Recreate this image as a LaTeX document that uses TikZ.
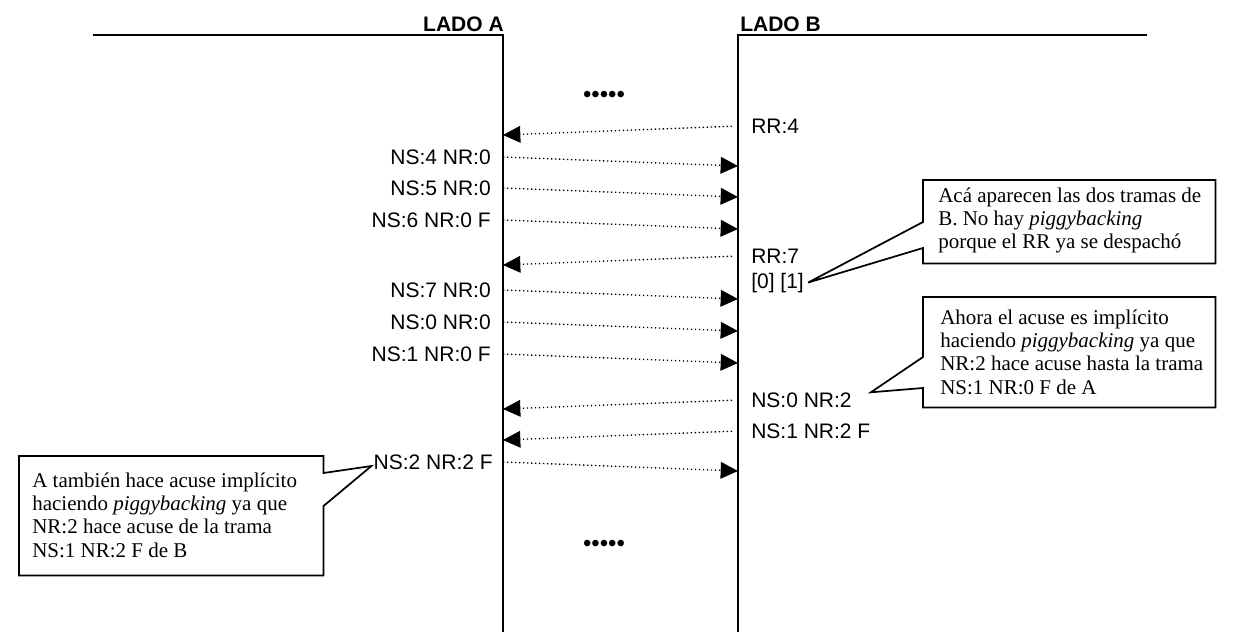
\documentclass[tikz,border=0pt]{standalone}
\usepackage{fontspec}
\setmainfont{Liberation Serif}
\setsansfont{Liberation Sans}
\usetikzlibrary{positioning,arrows.meta,calc}
\tikzset{
  lado/.style={font=\sffamily\bfseries\fontsize{15.75}{18}\selectfont, inner sep=0pt},
  trama/.style={font=\sffamily\fontsize{15.75}{18}\selectfont, inner sep=0pt},
  puntos/.style={font=\sffamily\fontsize{18}{20}\selectfont, inner sep=0pt},
  linea/.style={line width=1.4pt},
  msg/.style={line width=1pt, dash pattern=on 1pt off 2pt, -{Triangle[length=13pt,width=12.5pt]}},
  msgizq/.style={msg, shorten <=4.5pt},
  nota/.style={inner sep=0pt, anchor=north west},
  notatxt/.style={font=\rmfamily\fontsize{15.75}{17.5}\selectfont, align=left, inner sep=0pt, anchor=north west},
  globo/.style={line width=1.3pt, line join=miter}}

\begin{document}
\begin{tikzpicture}[x=0.75pt,y=-0.75pt]
\useasboundingbox (0,0) rectangle (1239,632);
\coordinate (A) at (503,35);
\coordinate (B) at (738,35);
\draw[linea] (93,35) -- (A) -- (503,632);
\draw[linea] (1147,35) -- (B) -- (738,632);
\node[lado, anchor=base east] (ladoA) at (504,31) {LADO A};
\node[lado, anchor=base west] (ladoB) at (740,31) {LADO B};
\node[puntos, anchor=base] (pts1) at (604,102) {•••••};
\node[puntos, anchor=base] (pts2) at (604,551) {•••••};

\node[trama, anchor=west] (rr4) at (751,126) {RR:4};
\node[trama, anchor=east] (ns4) at (491,157) {NS:4 NR:0};
\node[trama, anchor=east] (ns5) at (491,188) {NS:5 NR:0};
\node[trama, anchor=east] (ns6) at (491,220) {NS:6 NR:0 F};
\node[trama, anchor=west] (rr7) at (751,256) {RR:7};
\node[trama, anchor=base west] (c01) at (751,288) {[0] [1]};
\node[trama, anchor=east] (ns7) at (491,290) {NS:7 NR:0};
\node[trama, anchor=east] (ns0) at (491,322) {NS:0 NR:0};
\node[trama, anchor=east] (ns1) at (491,354) {NS:1 NR:0 F};
\node[trama, anchor=west] (ns0b) at (751,400) {NS:0 NR:2};
\node[trama, anchor=west] (ns1b) at (751,431) {NS:1 NR:2 F};
\node[trama, anchor=east] (ns2a) at (493,462) {NS:2 NR:2 F};

\draw[msgizq] (rr4.west -| B) -- ($(rr4.west -| A)+(0,9)$);
\draw[msg] (ns4.east -| A) -- ($(ns4.east -| B)+(0,9)$);
\draw[msg] (ns5.east -| A) -- ($(ns5.east -| B)+(0,9)$);
\draw[msg] (ns6.east -| A) -- ($(ns6.east -| B)+(0,9)$);
\draw[msgizq] (rr7.west -| B) -- ($(rr7.west -| A)+(0,9)$);
\draw[msg] (ns7.east -| A) -- ($(ns7.east -| B)+(0,9)$);
\draw[msg] (ns0.east -| A) -- ($(ns0.east -| B)+(0,9)$);
\draw[msg] (ns1.east -| A) -- ($(ns1.east -| B)+(0,9)$);
\draw[msgizq] (ns0b.west -| B) -- ($(ns0b.west -| A)+(0,9)$);
\draw[msgizq] (ns1b.west -| B) -- ($(ns1b.west -| A)+(0,9)$);
\draw[msg] (ns2a.east -| A) -- ($(ns2a.east -| B)+(0,9)$);

\node[nota, minimum width=219pt, minimum height=62.25pt] (nota1) at (923,180) {};
\node[notatxt] (txt1) at ($(nota1.north west)+(15,5.7)$) {\strut Acá aparecen las dos tramas de\\B. No hay \textit{piggybacking}\\porque el RR ya se despachó};
\draw[globo] (nota1.north west) -- (nota1.north east) -- (nota1.south east) -- (nota1.south west)
  -- ($(nota1.north west)+(0,68)$) -- ($(c01.east)+(4,0)$) -- ($(nota1.north west)+(0,42)$) -- cycle;

\node[nota, minimum width=219pt, minimum height=82.5pt] (nota2) at (923,297) {};
\node[notatxt] (txt2) at ($(nota2.north west)+(17,10.7)$) {\strut Ahora el acuse es implícito\\haciendo \textit{piggybacking} ya que\\NR:2 hace acuse hasta la trama\\NS:1 NR:0 F de A};
\draw[globo] (nota2.north west) -- (nota2.north east) -- (nota2.south east) -- (nota2.south west)
  -- ($(nota2.north west)+(0,91)$) -- ($(ns0b.north east)+(19,0)$) -- ($(nota2.north west)+(0,60)$) -- cycle;

\node[nota, minimum width=228pt, minimum height=89.25pt] (nota3) at (19,456) {};
\node[notatxt] (txt3) at ($(nota3.north west)+(13,14.7)$) {\strut A también hace acuse implícito\\haciendo \textit{piggybacking} ya que\\NR:2 hace acuse de la trama\\NS:1 NR:2 F de B};
\draw[globo] (nota3.north west) -- (nota3.north east) -- ($(nota3.north east)+(0,17)$)
  -- ($(ns2a.west)+(-2,4)$) -- ($(nota3.north east)+(0,50)$) -- (nota3.south east) -- (nota3.south west) -- cycle;
\end{tikzpicture}
\end{document}
